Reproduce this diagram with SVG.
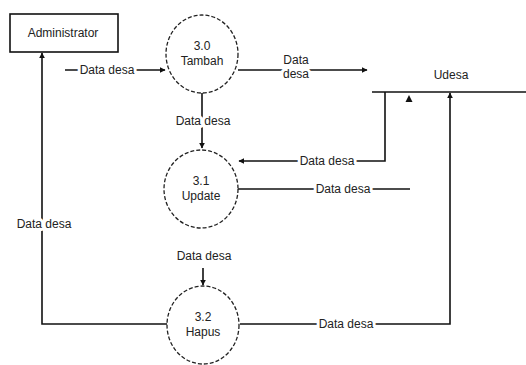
<svg xmlns="http://www.w3.org/2000/svg" width="526" height="365" viewBox="0 0 526 365">
<style>
text{font-family:"Liberation Sans",Arial,sans-serif;font-size:12px;fill:#222;text-anchor:middle}
.lbl{paint-order:stroke;stroke:#fff;stroke-width:6px;stroke-linejoin:round}
.proc{fill:#fff;stroke:#222;stroke-width:1.3;stroke-dasharray:4 2}
.ln{fill:none;stroke:#111;stroke-width:1.6}
</style>
<defs>
<marker id="ah" viewBox="0 0 10 10" refX="9" refY="5" markerWidth="6" markerHeight="6" orient="auto" markerUnits="userSpaceOnUse">
<path d="M0,0 L10,5 L0,10 Z" fill="#111"/>
</marker>
</defs>
<rect width="526" height="365" fill="#fff"/>
<g id="connectors">
<path class="ln" d="M65,70 H165" marker-end="url(#ah)"/>
<path class="ln" d="M238,70 H367" marker-end="url(#ah)"/>
<path class="ln" d="M202,93 V148" marker-end="url(#ah)"/>
<path class="ln" d="M385,92 V161 H239" marker-end="url(#ah)"/>
<path class="ln" d="M238,189 H410"/>
<polygon points="409,95 405.5,102 412.5,102" fill="#111"/>
<path class="ln" d="M203,268 V285" marker-end="url(#ah)"/>
<path class="ln" d="M240,324 H450 V93" marker-end="url(#ah)"/>
<path class="ln" d="M167,324 H42 V53" marker-end="url(#ah)"/>
<text class="lbl" x="107" y="74">Data desa</text>
<text class="lbl" x="296" y="64">Data</text>
<text class="lbl" x="296" y="78">desa</text>
<text class="lbl" x="203" y="125">Data desa</text>
<text class="lbl" x="327" y="165">Data desa</text>
<text class="lbl" x="343" y="193">Data desa</text>
<text class="lbl" x="204" y="260">Data desa</text>
<text class="lbl" x="346" y="328">Data desa</text>
<text class="lbl" x="44" y="228">Data desa</text>
</g>
<g id="administrator">
<rect x="10" y="14" width="108" height="38" fill="#fff" stroke="#111" stroke-width="1.6"/>
<text x="63" y="37">Administrator</text>
</g>
<g id="p30">
<ellipse class="proc" cx="202" cy="54" rx="36" ry="39"/>
<text x="202" y="50">3.0</text>
<text x="202" y="65">Tambah</text>
</g>
<g id="p31">
<ellipse class="proc" cx="201" cy="189" rx="37" ry="39"/>
<text x="201" y="185">3.1</text>
<text x="201" y="200">Update</text>
</g>
<g id="p32">
<ellipse class="proc" cx="203" cy="325" rx="36" ry="39"/>
<text x="203" y="321">3.2</text>
<text x="203" y="336">Hapus</text>
</g>
<g id="datastore">
<path class="ln" d="M372,92 H526"/>
<text x="451" y="79">Udesa</text>
</g>
</svg>
